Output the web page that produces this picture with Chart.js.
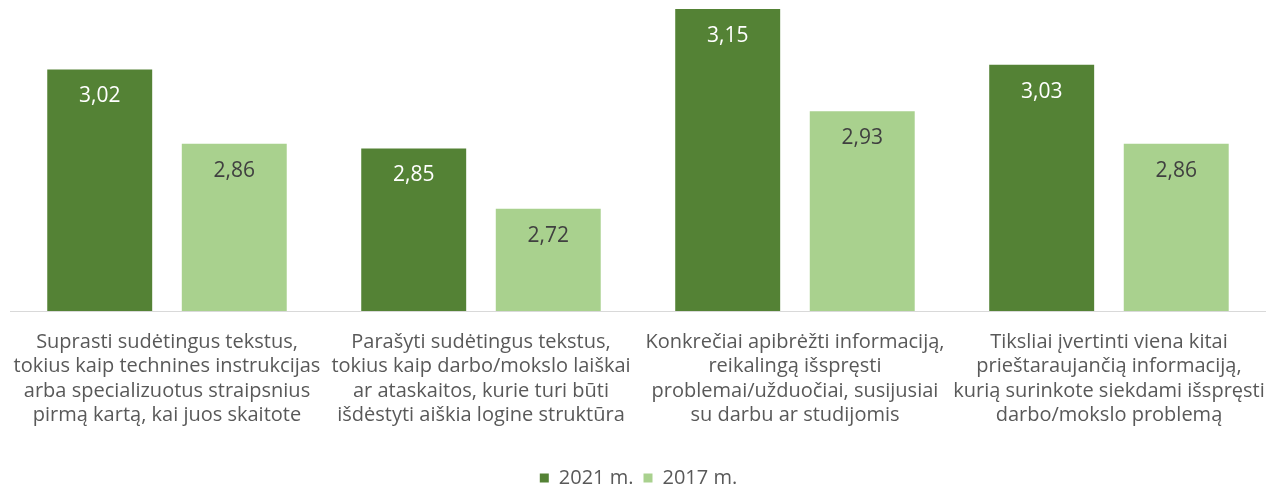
<!DOCTYPE html>
<html>
<head>
<meta charset="utf-8">
<script src="https://cdn.jsdelivr.net/npm/chart.js@4/dist/chart.umd.min.js"></script>
<style>
html,body{margin:0;padding:0;background:#fff;}
#wrap{width:1277px;height:488px;}
</style>
</head>
<body>
<div id="wrap"><canvas id="c"></canvas></div>
<script>
const categories = [
  ["Suprasti sudėtingus tekstus,","tokius kaip technines instrukcijas","arba specializuotus straipsnius","pirmą kartą, kai juos skaitote"],
  ["Parašyti sudėtingus tekstus,","tokius kaip darbo/mokslo laiškai","ar ataskaitos, kurie turi būti","išdėstyti aiškia logine struktūra"],
  ["Konkrečiai apibrėžti informaciją,","reikalingą išspręsti","problemai/užduočiai, susijusiai","su darbu ar studijomis"],
  ["Tiksliai įvertinti viena kitai","prieštaraujančią informaciją,","kurią surinkote siekdami išspręsti","darbo/mokslo problemą"]
];
const values2021 = [3.02, 2.85, 3.15, 3.03];
const values2017 = [2.86, 2.72, 2.93, 2.86];
const seriesNames = ["2021 m.", "2017 m."];

const FONT = "'Open Sans', sans-serif";

// value labels inside the bars
const barLabels = {
  id:"barLabels",
  afterDatasetsDraw(chart){
    const ctx=chart.ctx;
    ctx.save();
    ctx.font="21px "+FONT;
    ctx.textAlign="center";
    ctx.textBaseline="middle";
    chart.data.datasets.forEach((ds,i)=>{
      const meta=chart.getDatasetMeta(i);
      meta.data.forEach((bar,j)=>{
        ctx.fillStyle = i===0 ? "#ffffff" : "#404040";
        ctx.fillText(ds.data[j].toFixed(2).replace(".",","), bar.x, bar.y+27);
      });
    });
    ctx.restore();
  }
};

new Chart(document.getElementById("c"),{
  type:"bar",
  data:{
    labels:categories,
    datasets:[
      {label:seriesNames[0],data:values2021,backgroundColor:"#548235"},
      {label:seriesNames[1],data:values2017,backgroundColor:"#A9D18E"}
    ]
  },
  options:{
    responsive:true,
    maintainAspectRatio:false,
    animation:false,
    layout:{padding:{top:9,left:10,right:10,bottom:-10}},
    datasets:{bar:{categoryPercentage:0.857,barPercentage:0.78}},
    scales:{
      y:{display:false,min:2.5,max:3.15},
      x:{
        grid:{display:false},
        border:{color:"#D9D9D9",width:1},
        ticks:{
          color:"#595959",
          font:{family:FONT,size:20,lineHeight:"24.5px"},
          padding:11,
          maxRotation:0,
          autoSkip:false
        },
        afterFit(scale){ scale.height = 147; }
      }
    },
    plugins:{
      legend:{
        position:"bottom",
        labels:{
          color:"#595959",
          font:{family:FONT,size:20},
          boxWidth:9,
          boxHeight:9,
          padding:10
        }
      },
      tooltip:{enabled:false}
    }
  },
  plugins:[barLabels]
});
</script>
</body>
</html>
